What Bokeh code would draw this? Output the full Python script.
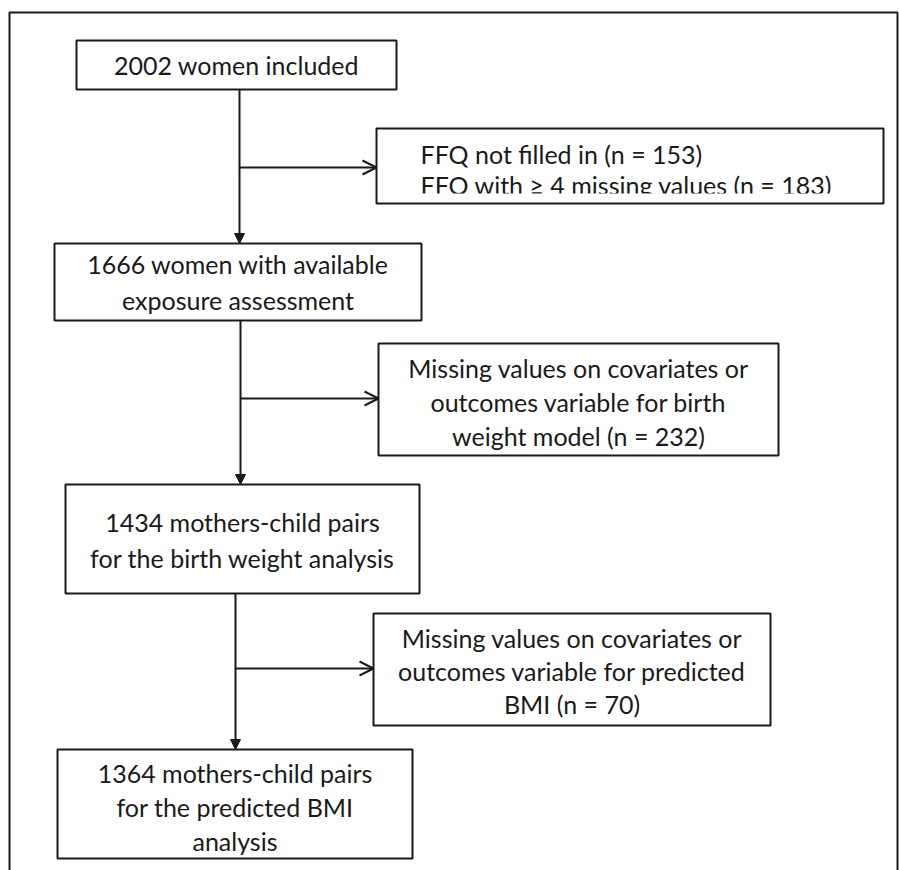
from bokeh.plotting import figure
from bokeh.models import Range1d, Arrow, NormalHead, OpenHead
from bokeh.core.properties import value
from bokeh.embed import file_html
from bokeh.resources import INLINE

# ---- content (texts of the flow chart) ----
main_labels = [
    ["2002 women included"],
    ["1666 women with available", "exposure assessment"],
    ["1434 mothers-child pairs", "for the birth weight analysis"],
    ["1364 mothers-child pairs", "for the predicted BMI", "analysis"],
]
excluded_labels = [
    ["FFQ not filled in (n = 153)", "FFQ with \u2265 4 missing values (n = 183)"],
    ["Missing values on covariates or", "outcomes variable for birth", "weight model (n = 232)"],
    ["Missing values on covariates or", "outcomes variable for predicted", "BMI (n = 70)"],
]

# ---- layout (page pixel coordinates) ----
main_boxes = [(76, 396, 40, 89), (54, 421, 243, 320), (65, 419, 484, 593), (57, 412, 749, 858)]
main_text_y = [[64], [263, 299], [521, 557], [772, 806, 840]]
excl_boxes = [(376, 883, 128, 203), (378, 778, 343, 455), (373, 770, 613, 725)]
excl_text_y = [[153, 184], [367, 401, 435], [637, 670, 703]]
spine_x = [239, 240, 235]
branch_y = [167, 398, 668]

INK = "#1a1a1a"
FONT = value("Lato")
FS = "25px"

p = figure(width=899, height=870, output_backend="svg", toolbar_location=None,
           x_range=Range1d(0, 899), y_range=Range1d(870, 0),
           x_axis_type=None, y_axis_type=None, min_border=0)
p.grid.visible = False
p.outline_line_color = None
p.background_fill_color = "white"
p.border_fill_color = "white"

# outer frame
p.line([9, 9, 897, 897], [880, 12, 12, 880], line_color=INK, line_width=2)

allboxes = main_boxes + excl_boxes
L = [b[0] for b in allboxes]; R = [b[1] for b in allboxes]
T = [b[2] for b in allboxes]; B = [b[3] for b in allboxes]
p.quad(left=L, right=R, top=T, bottom=B, fill_color="white", line_color=None)

# texts of main boxes (centered)
for (l, r, t, b), lines, ys in zip(main_boxes, main_labels, main_text_y):
    cx = (l + r) / 2
    p.text(x=[cx] * len(lines), y=ys, text=lines, text_align="center",
           text_baseline="middle", text_font=FONT, text_font_size=FS, text_color=INK)

# texts of exclusion boxes
for i, ((l, r, t, b), lines, ys) in enumerate(zip(excl_boxes, excluded_labels, excl_text_y)):
    if i == 0:
        xs = [l + 44] * len(lines)
        align = "left"
    else:
        xs = [(l + r) / 2] * len(lines)
        align = "center"
    p.text(x=xs, y=ys, text=lines, text_align=align,
           text_baseline="middle", text_font=FONT, text_font_size=FS, text_color=INK)

# the first exclusion box clips its second line at the bottom
l0, r0, t0, b0 = excl_boxes[0]
p.quad(left=[l0 + 1], right=[r0 - 1], top=[b0 - 10], bottom=[b0], fill_color="white", line_color=None)

# box borders
p.quad(left=L, right=R, top=T, bottom=B, fill_alpha=0, line_color=INK, line_width=2)

# vertical arrows between main boxes, with branches to the exclusion boxes
for i in range(3):
    x = spine_x[i]
    y0 = main_boxes[i][3]
    y1 = main_boxes[i + 1][2]
    p.add_layout(Arrow(end=NormalHead(size=10, fill_color=INK, line_color=INK, line_width=1),
                       x_start=x, y_start=y0, x_end=x, y_end=y1,
                       line_color=INK, line_width=2))
    p.add_layout(Arrow(end=OpenHead(size=14, line_color=INK, line_width=2),
                       x_start=x, y_start=branch_y[i], x_end=excl_boxes[i][0], y_end=branch_y[i],
                       line_color=INK, line_width=2))

open("out.html", "w").write(file_html(p, INLINE))
